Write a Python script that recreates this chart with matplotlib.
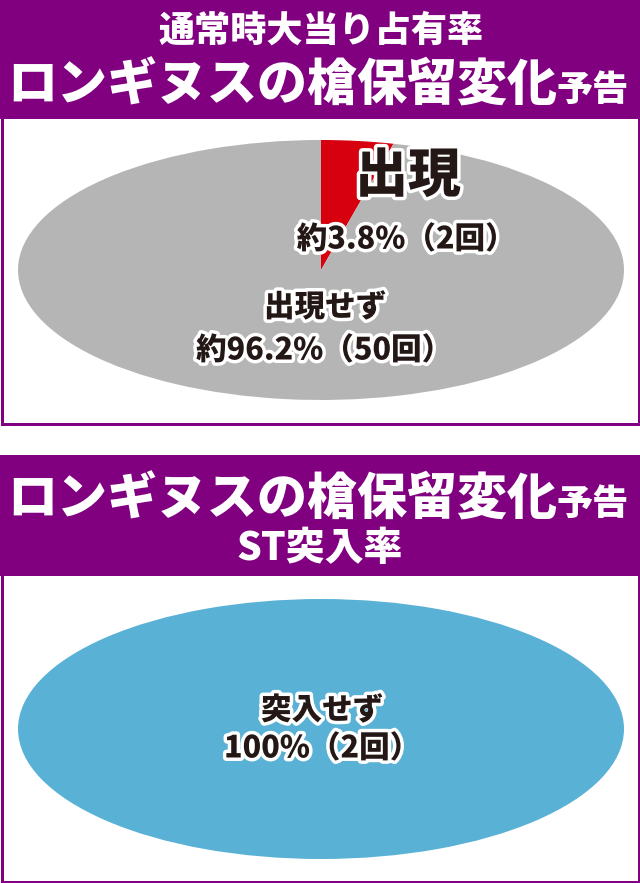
import matplotlib
matplotlib.use("Agg")
import matplotlib.pyplot as plt
from matplotlib.patches import Rectangle
import matplotlib.patheffects as pe

plt.rcParams['font.family'] = ['Noto Sans CJK JP', 'DejaVu Sans']

# ---- data ----
panel1_title = ["通常時大当り占有率", "ロンギヌスの槍保留変化", "予告"]
panel1_labels = ["出現", "出現せず"]
panel1_counts = [2, 50]
panel1_pcts = ["約3.8%", "約96.2%"]
panel1_colors = ["#d7000f", "#b5b5b6"]

panel2_title = ["ロンギヌスの槍保留変化", "予告", "ST突入率"]
panel2_labels = ["突入せず"]
panel2_counts = [2]
panel2_pcts = ["100%"]
panel2_colors = ["#59b2d5"]

PURPLE = "#800080"
DARK = "#231815"
W, H = 640, 883
WEIGHT = 'heavy'

fig = plt.figure(figsize=(W / 100, H / 100), dpi=100)
bg = fig.add_axes([0, 0, 1, 1], zorder=0)
bg.set_xlim(0, W)
bg.set_ylim(H, 0)
bg.axis('off')

lw = 3 * 72 / 100
# panel 1
bg.add_patch(Rectangle((0, 0), W, 119, facecolor=PURPLE, edgecolor='none'))
bg.add_patch(Rectangle((1.5, 117), W - 3, 306.5, facecolor='white', edgecolor=PURPLE, linewidth=lw))
# panel 2
bg.add_patch(Rectangle((0, 455), W, 121, facecolor=PURPLE, edgecolor='none'))
bg.add_patch(Rectangle((1.5, 574), W - 3, 307.5, facecolor='white', edgecolor=PURPLE, linewidth=lw))


def pie_axes(top, bottom, left=18, right=624):
    a = fig.add_axes([left / W, (H - bottom) / H, (right - left) / W, (bottom - top) / H], zorder=1)
    return a


ax1 = pie_axes(140, 400)
ax1.pie(panel1_counts, colors=panel1_colors, startangle=90, counterclock=False,
        radius=1, wedgeprops=dict(linewidth=0))
ax1.set_aspect('auto')
ax1.set_xlim(-1, 1)
ax1.set_ylim(-1, 1)
ax1.axis('off')

ax2 = pie_axes(599, 859)
ax2.pie(panel2_counts, colors=panel2_colors, startangle=90, counterclock=False,
        radius=1, wedgeprops=dict(linewidth=0))
ax2.set_aspect('auto')
ax2.set_xlim(-1, 1)
ax2.set_ylim(-1, 1)
ax2.axis('off')

ov = fig.add_axes([0, 0, 1, 1], zorder=5)
ov.set_xlim(0, W)
ov.set_ylim(H, 0)
ov.axis('off')
ov.patch.set_alpha(0)

# header texts
ov.text(321, 31, panel1_title[0], ha='center', va='center', color='white',
        fontsize=26, fontweight=WEIGHT)
ov.text(282, 101, panel1_title[1], ha='center', va='baseline', color='white',
        fontsize=36, fontweight=WEIGHT)
ov.text(593, 101, panel1_title[2], ha='center', va='baseline', color='white',
        fontsize=26, fontweight=WEIGHT)

ov.text(282, 515, panel2_title[0], ha='center', va='baseline', color='white',
        fontsize=36, fontweight=WEIGHT)
ov.text(593, 515, panel2_title[1], ha='center', va='baseline', color='white',
        fontsize=26, fontweight=WEIGHT)
ov.text(320, 548, panel2_title[2], ha='center', va='center', color='white',
        fontsize=28, fontweight=WEIGHT)

stroke = [pe.withStroke(linewidth=5, foreground='white')]


def lbl(x, y, s, size):
    ov.text(x, y, s, ha='center', va='center', color=DARK, fontsize=size,
            fontweight=WEIGHT, path_effects=stroke)


lbl(408, 176, panel1_labels[0], 38)
lbl(406, 239, f"{panel1_pcts[0]}（{panel1_counts[0]}回）", 22)
lbl(325, 307, panel1_labels[1], 22)
lbl(324, 350, f"{panel1_pcts[1]}（{panel1_counts[1]}回）", 22)

lbl(322, 710, panel2_labels[0], 22)
lbl(322, 748, f"{panel2_pcts[0]}（{panel2_counts[0]}回）", 22)

fig.savefig("out.png", dpi=100)
